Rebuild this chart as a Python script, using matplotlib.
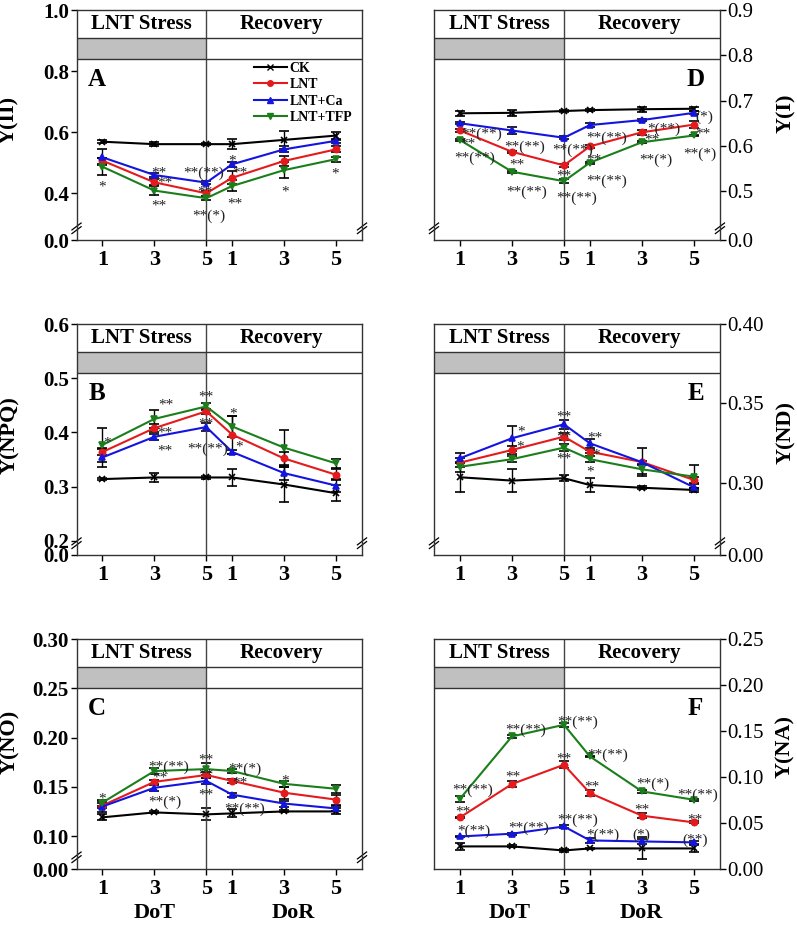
import matplotlib
matplotlib.use("Agg")
import matplotlib.pyplot as plt
from matplotlib.lines import Line2D
from matplotlib.transforms import blended_transform_factory

plt.rcParams['font.family'] = ['Liberation Serif', 'DejaVu Serif']

# x positions: days of treatment 1,3,5 then days of recovery 1,3,5
x_pos = [1, 3, 5, 6, 8, 10]
x_labels = ['1', '3', '5', '1', '3', '5']
series_names = ['CK', 'LNT', 'LNT+Ca', 'LNT+TFP']

# A: Y(II)
a_ck = [0.569, 0.561, 0.561, 0.561, 0.575, 0.589]
a_ck_err = [0.005, 0.007, 0.004, 0.016, 0.030, 0.013]
a_lnt = [0.507, 0.436, 0.400, 0.451, 0.506, 0.544]
a_lnt_err = [0.010, 0.010, 0.008, 0.022, 0.015, 0.010]
a_ca = [0.518, 0.460, 0.435, 0.495, 0.544, 0.572]
a_ca_err = [0.026, 0.005, 0.006, 0.008, 0.010, 0.006]
a_tfp = [0.487, 0.409, 0.384, 0.424, 0.476, 0.512]
a_tfp_err = [0.027, 0.014, 0.006, 0.018, 0.027, 0.008]

# B: Y(NPQ)
b_ck = [0.314, 0.317, 0.317, 0.317, 0.304, 0.288]
b_ck_err = [0.002, 0.008, 0.002, 0.015, 0.032, 0.015]
b_lnt = [0.364, 0.408, 0.439, 0.396, 0.352, 0.322]
b_lnt_err = [0.006, 0.008, 0.005, 0.035, 0.012, 0.010]
b_ca = [0.354, 0.392, 0.410, 0.364, 0.325, 0.302]
b_ca_err = [0.017, 0.006, 0.008, 0.003, 0.012, 0.012]
b_tfp = [0.377, 0.425, 0.448, 0.411, 0.372, 0.343]
b_tfp_err = [0.031, 0.016, 0.007, 0.020, 0.033, 0.008]

# C: Y(NO)
c_ck = [0.119, 0.124, 0.122, 0.123, 0.125, 0.125]
c_ck_err = [0.003, 0.001, 0.006, 0.004, 0.001, 0.003]
c_lnt = [0.131, 0.155, 0.162, 0.156, 0.144, 0.137]
c_lnt_err = [0.003, 0.002, 0.003, 0.002, 0.006, 0.005]
c_ca = [0.130, 0.149, 0.156, 0.142, 0.133, 0.128]
c_ca_err = [0.006, 0.003, 0.003, 0.002, 0.003, 0.003]
c_tfp = [0.134, 0.166, 0.168, 0.166, 0.153, 0.148]
c_tfp_err = [0.003, 0.003, 0.006, 0.002, 0.003, 0.004]

# D: Y(I)
d_ck = [0.672, 0.673, 0.677, 0.679, 0.681, 0.682]
d_ck_err = [0.005, 0.006, 0.002, 0.003, 0.006, 0.005]
d_lnt = [0.634, 0.587, 0.557, 0.599, 0.630, 0.647]
d_lnt_err = [0.003, 0.002, 0.003, 0.003, 0.005, 0.008]
d_ca = [0.650, 0.634, 0.618, 0.646, 0.657, 0.673]
d_ca_err = [0.002, 0.007, 0.003, 0.005, 0.002, 0.003]
d_tfp = [0.613, 0.543, 0.522, 0.563, 0.608, 0.623]
d_tfp_err = [0.002, 0.002, 0.004, 0.002, 0.002, 0.002]

# E: Y(ND)
e_ck = [0.3034, 0.3013, 0.3028, 0.2985, 0.2968, 0.2954]
e_ck_err = [0.009, 0.0074, 0.002, 0.0046, 0.001, 0.001]
e_lnt = [0.3126, 0.3206, 0.3290, 0.3195, 0.3130, 0.3017]
e_lnt_err = [0.003, 0.0025, 0.002, 0.001, 0.009, 0.002]
e_ca = [0.3154, 0.3280, 0.3368, 0.3248, 0.3129, 0.2971]
e_ca_err = [0.003, 0.008, 0.003, 0.003, 0.001, 0.002]
e_tfp = [0.3100, 0.3148, 0.3221, 0.3148, 0.3084, 0.3038]
e_tfp_err = [0.003, 0.002, 0.002, 0.002, 0.003, 0.0074]

# F: Y(NA)
f_ck = [0.0246, 0.0246, 0.0202, 0.0224, 0.0224, 0.0224]
f_ck_err = [0.0036, 0.001, 0.002, 0.001, 0.012, 0.004]
f_lnt = [0.0561, 0.0924, 0.1134, 0.0826, 0.0580, 0.0507]
f_lnt_err = [0.001, 0.003, 0.004, 0.003, 0.003, 0.001]
f_ca = [0.0354, 0.0384, 0.0463, 0.0311, 0.0300, 0.0290]
f_ca_err = [0.001, 0.001, 0.002, 0.003, 0.003, 0.002]
f_tfp = [0.0764, 0.1442, 0.1568, 0.1224, 0.0844, 0.0753]
f_tfp_err = [0.003, 0.002, 0.002, 0.001, 0.002, 0.001]

# significance marks (x, y, text)
a_notes = [(1.0, 0.434, '*'), (3.19, 0.480, '**'), (3.42, 0.447, '**'), (3.19, 0.371, '**'),
           (4.88, 0.480, '**(**)'), (4.96, 0.417, '**'), (5.08, 0.339, '**(*)'),
           (6.0, 0.519, '*'), (6.31, 0.480, '**'), (6.12, 0.378, '**'),
           (8.04, 0.417, '*'), (9.96, 0.476, '*')]
b_notes = [(1.18, 0.389, '*'), (3.43, 0.458, '**'), (3.4, 0.407, '**'), (3.4, 0.374, '**'),
           (5.0, 0.473, '**'), (5.0, 0.423, '**'), (5.07, 0.377, '**(**)'),
           (6.03, 0.442, '*'), (6.25, 0.380, '*')]
c_notes = [(0.99, 0.1417, '*'), (3.53, 0.1745, '**(**)'), (3.21, 0.163, '**'),
           (3.4, 0.1383, '**(*)'), (5.0, 0.1813, '**'), (5.0, 0.1664, '**'),
           (5.0, 0.146, '**'), (6.48, 0.1722, '**(*)'), (6.29, 0.1576, '**'),
           (6.48, 0.1315, '**(**)'), (8.02, 0.1603, '*')]
d_notes = [(1.82, 0.634, '**(**)'), (1.31, 0.614, '**'), (1.57, 0.582, '**(**)'),
           (3.49, 0.607, '**(**)'), (3.19, 0.566, '**'), (3.58, 0.507, '**(**)'),
           (5.35, 0.599, '**(**)'), (4.99, 0.543, '**'), (5.48, 0.493, '**(**)'),
           (6.63, 0.627, '**(**)'), (6.14, 0.577, '**'), (6.63, 0.531, '**(**)'),
           (8.83, 0.647, '*(**)'), (8.4, 0.622, '**'), (8.53, 0.577, '**(*)'),
           (10.41, 0.673, '(*)'), (10.35, 0.636, '**'), (10.22, 0.591, '**(*)')]
e_notes = [(3.36, 0.3343, '*'), (3.33, 0.3248, '*'), (4.99, 0.3441, '**'),
           (4.99, 0.3311, '**'), (4.99, 0.3175, '**'), (6.18, 0.3305, '**'),
           (6.25, 0.3202, '*'), (6.02, 0.3091, '*')]
f_notes = [(5.52, 0.1641, '**(**)'), (3.53, 0.155, '**(**)'), (6.67, 0.1278, '**(**)'),
           (1.48, 0.0905, '**(**)'), (5.0, 0.1242, '**'), (3.02, 0.105, '**'),
           (6.09, 0.0941, '**'), (8.4, 0.0971, '**(*)'), (10.13, 0.0843, '**(**)'),
           (1.12, 0.0663, '**'), (7.99, 0.0688, '**'), (10.03, 0.0579, '**'),
           (1.54, 0.0452, '*(**)'), (3.65, 0.0489, '**(**)'), (5.52, 0.0579, '**(**)'),
           (6.48, 0.0409, '*(**)'), (7.99, 0.0409, '(*)'), (10.03, 0.0354, '(**)')]

colors = ['black', '#e41a1c', '#1414e0', '#1a7f1a']
markers = ['x', 'o', '^', 'v']

fig = plt.figure(figsize=(7.97, 9.25), dpi=100)


def add_breaks(ax):
    kw = dict(transform=ax.transAxes, color='black', lw=0.9, clip_on=False)
    for xs in (0, 1):
        for d in (0, 0.016):
            ax.plot([xs - 0.016, xs + 0.016], [0.028 + d, 0.058 + d], **kw)


def draw_panel(rect, data, ylo, yhi, ticks, tick_labels, right, letter, notes, broken=True):
    ax = fig.add_axes(rect)
    for (vals, errs), c, m in zip(data, colors, markers):
        ax.errorbar(x_pos, vals, yerr=errs, color=c, marker=m, ms=4.5, mew=1.2,
                    lw=1.5, ecolor='black', elinewidth=1, capsize=3.5, capthick=1)
    ax.set_xlim(0, 11)
    ax.set_ylim(ylo, yhi)
    ax.set_xticks(x_pos)
    ax.set_xticklabels(x_labels)
    ax.set_yticks(ticks)
    ax.set_yticklabels(tick_labels)
    for lab in ax.get_xticklabels() + ax.get_yticklabels():
        lab.set_fontweight('bold')
    ax.tick_params(axis='x', direction='out', length=4, width=1, labelsize=16, pad=3)
    ax.tick_params(axis='y', direction='out', length=4, width=1, labelsize=15, pad=1.5)
    if right:
        ax.yaxis.tick_right()
    for sp in ax.spines.values():
        sp.set_linewidth(1)
        sp.set_color('#333333')

    # header: treatment phase strip
    tr = blended_transform_factory(ax.transData, ax.transAxes)
    ax.axvline(5, color='#444444', lw=1)
    ax.axvspan(0, 5, ymin=0.787, ymax=0.878, color='#c0c0c0', lw=0)
    ax.axhline(ylo + (yhi - ylo) * 0.878, color='#333333', lw=1)
    ax.axhline(ylo + (yhi - ylo) * 0.787, color='#333333', lw=1)
    ax.text(2.5, 0.938, 'LNT Stress', transform=tr, ha='center', va='center',
            fontsize=15, fontweight='bold')
    ax.text(7.9, 0.938, 'Recovery', transform=tr, ha='center', va='center',
            fontsize=15, fontweight='bold')

    lx = 0.915 if right else 0.072
    ax.text(lx, 0.70, letter, transform=ax.transAxes, ha='center', va='center',
            fontsize=18, fontweight='bold')

    for x, y, t in notes:
        ax.annotate(t, (x, y), xytext=(0, -3), textcoords='offset points',
                    ha='center', va='center', fontsize=11, color='#222222')
    if broken:
        add_breaks(ax)
    return ax


left_x, left_w = 0.0960, 0.3582
right_x, right_w = 0.5445, 0.3588

ax_a = draw_panel([left_x, 0.7405, left_w, 0.2486],
                  [(a_ck, a_ck_err), (a_lnt, a_lnt_err), (a_ca, a_ca_err), (a_tfp, a_tfp_err)],
                  0.247, 1.0, [0.247, 0.4, 0.6, 0.8, 1.0], ['0.0', '0.4', '0.6', '0.8', '1.0'],
                  False, 'A', a_notes)
draw_panel([left_x, 0.4, left_w, 0.2497],
           [(b_ck, b_ck_err), (b_lnt, b_lnt_err), (b_ca, b_ca_err), (b_tfp, b_tfp_err)],
           0.174, 0.6, [0.174, 0.2, 0.3, 0.4, 0.5, 0.6],
           ['0.0', '0.2', '0.3', '0.4', '0.5', '0.6'], False, 'B', b_notes)
draw_panel([left_x, 0.0605, left_w, 0.2486],
           [(c_ck, c_ck_err), (c_lnt, c_lnt_err), (c_ca, c_ca_err), (c_tfp, c_tfp_err)],
           0.0665, 0.30, [0.0665, 0.10, 0.15, 0.20, 0.25, 0.30],
           ['0.00', '0.10', '0.15', '0.20', '0.25', '0.30'], False, 'C', c_notes)
draw_panel([right_x, 0.7405, right_w, 0.2486],
           [(d_ck, d_ck_err), (d_lnt, d_lnt_err), (d_ca, d_ca_err), (d_tfp, d_tfp_err)],
           0.392, 0.9, [0.392, 0.5, 0.6, 0.7, 0.8, 0.9],
           ['0.0', '0.5', '0.6', '0.7', '0.8', '0.9'], True, 'D', d_notes)
draw_panel([right_x, 0.4, right_w, 0.2497],
           [(e_ck, e_ck_err), (e_lnt, e_lnt_err), (e_ca, e_ca_err), (e_tfp, e_tfp_err)],
           0.2544, 0.40, [0.2544, 0.30, 0.35, 0.40],
           ['0.00', '0.30', '0.35', '0.40'], True, 'E', e_notes)
draw_panel([right_x, 0.0605, right_w, 0.2486],
           [(f_ck, f_ck_err), (f_lnt, f_lnt_err), (f_ca, f_ca_err), (f_tfp, f_tfp_err)],
           0.0, 0.25, [0.0, 0.05, 0.10, 0.15, 0.20, 0.25],
           ['0.00', '0.05', '0.10', '0.15', '0.20', '0.25'], True, 'F', f_notes, broken=False)

# legend in panel A
handles = [Line2D([], [], color=c, marker=m, ms=4, lw=1.5) for c, m in zip(colors, markers)]
ax_a.legend(handles, series_names, loc='upper left', bbox_to_anchor=(0.62, 0.775),
            frameon=False, prop={'size': 10, 'weight': 'bold'}, handlelength=2.4,
            handletextpad=0.2, labelspacing=0.25, borderpad=0, borderaxespad=0)

# axis titles
ylab = dict(rotation=90, ha='center', va='center', fontsize=16, fontweight='bold')
fig.text(9 / 797, 1 - 120 / 925, 'Y(II)', **ylab)
fig.text(10 / 797, 1 - 435 / 925, 'Y(NPQ)', **ylab)
fig.text(10 / 797, 1 - 742 / 925, 'Y(NO)', **ylab)
fig.text(786 / 797, 1 - 113 / 925, 'Y(I)', **ylab)
fig.text(786 / 797, 1 - 432 / 925, 'Y(ND)', **ylab)
fig.text(785 / 797, 1 - 747 / 925, 'Y(NA)', **ylab)

xlab = dict(ha='center', va='center', fontsize=16, fontweight='bold')
fig.text(155 / 797, 1 - 913 / 925, 'DoT', **xlab)
fig.text(293 / 797, 1 - 913 / 925, 'DoR', **xlab)
fig.text(510 / 797, 1 - 913 / 925, 'DoT', **xlab)
fig.text(641 / 797, 1 - 913 / 925, 'DoR', **xlab)

fig.savefig('out.png', dpi=100)
